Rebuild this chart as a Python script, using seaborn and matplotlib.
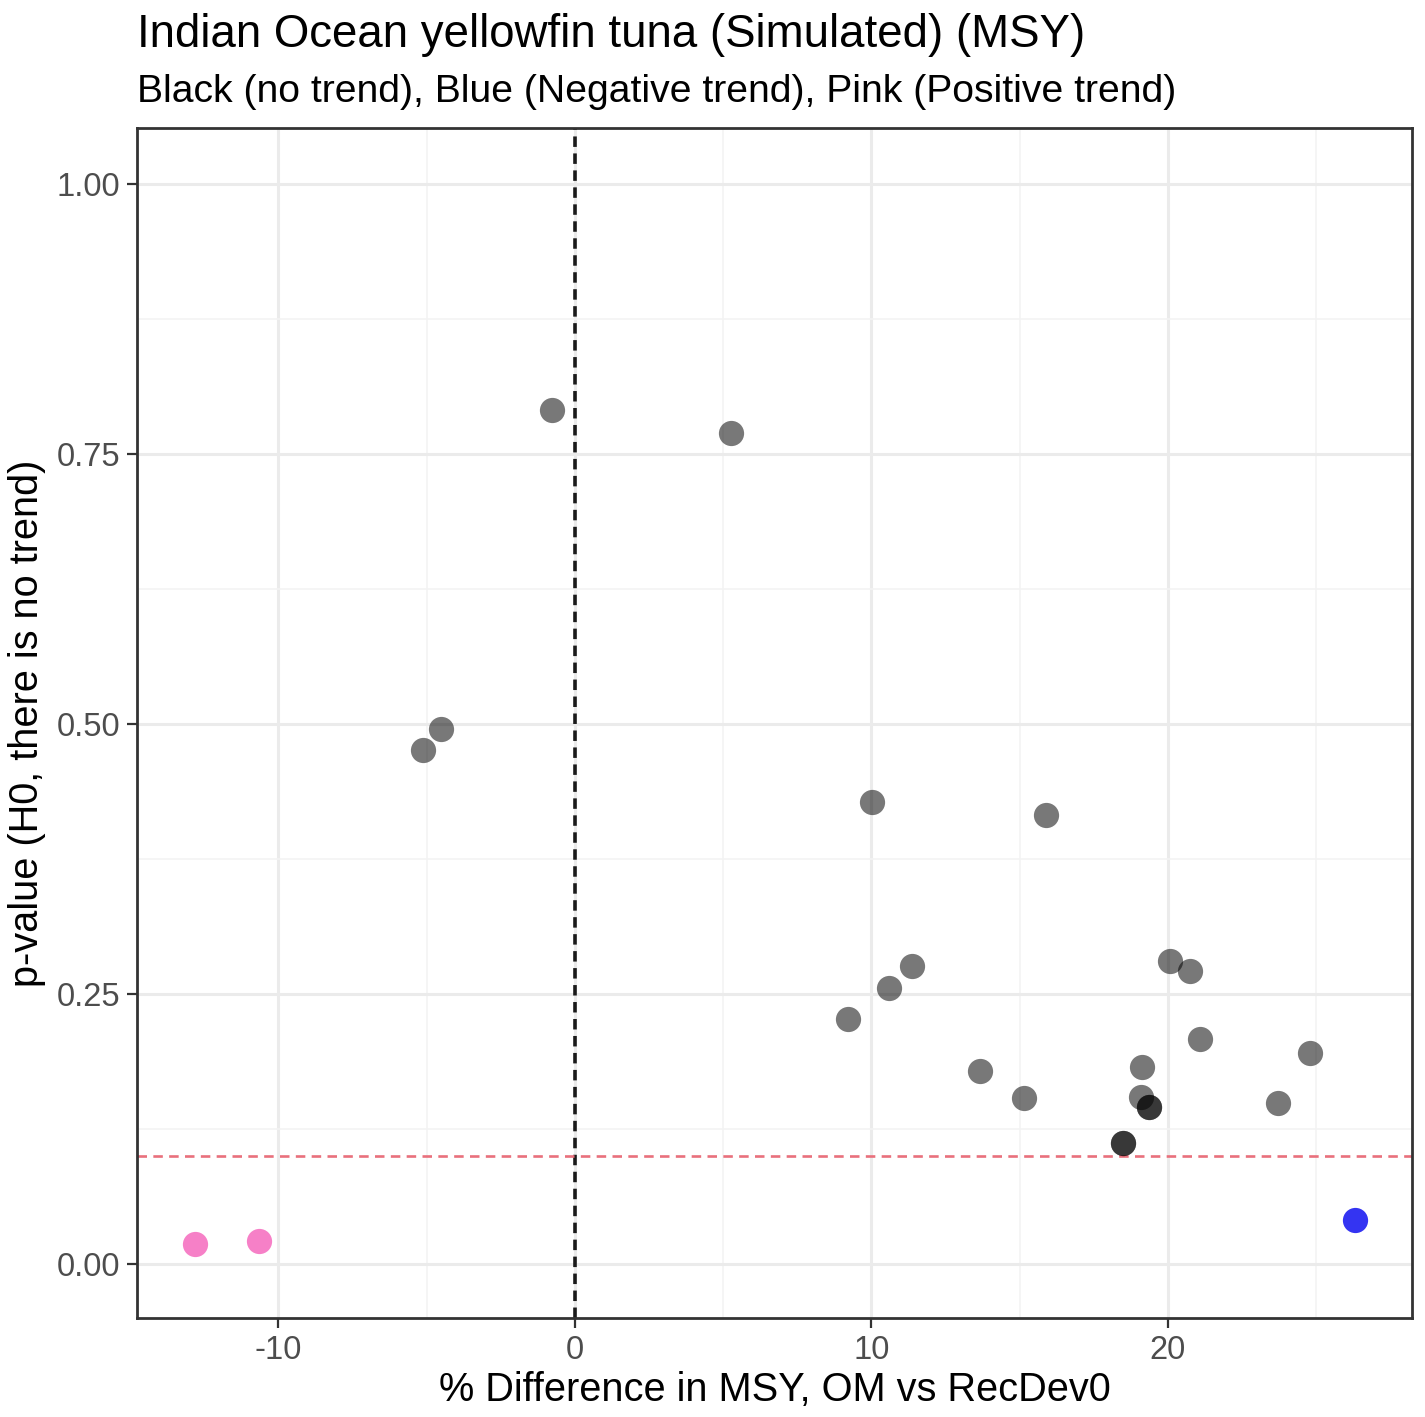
import numpy as np
import pandas as pd
import matplotlib
matplotlib.use("Agg")
import matplotlib.pyplot as plt
from matplotlib.ticker import MultipleLocator
import seaborn as sns

# % difference in MSY (OM vs RecDev0) and Mann-Kendall p-value per run
pct_diff_none = [-0.78, 5.26, -4.52, -5.13, 10.02, 15.89, 11.37, 10.59, 9.21,
                 20.07, 20.74, 21.08, 24.79, 13.66, 19.12, 15.14, 19.09,
                 19.36, 19.36, 23.71, 18.48, 18.48]
pval_none = [0.791, 0.770, 0.495, 0.476, 0.428, 0.416, 0.276, 0.256, 0.227,
             0.281, 0.271, 0.208, 0.195, 0.179, 0.182, 0.154, 0.155,
             0.145, 0.145, 0.149, 0.112, 0.112]
pct_diff_pos = [-12.82, -10.66]
pval_pos = [0.0185, 0.021]
pct_diff_neg = [26.31]
pval_neg = [0.041]

x_ticks = [-10, 0, 10, 20]
y_ticks = [0.00, 0.25, 0.50, 0.75, 1.00]
y_ticklabels = ["0.00", "0.25", "0.50", "0.75", "1.00"]

df = pd.concat([
    pd.DataFrame({"diff": pct_diff_none, "p": pval_none, "trend": "none"}),
    pd.DataFrame({"diff": pct_diff_pos, "p": pval_pos, "trend": "positive"}),
    pd.DataFrame({"diff": pct_diff_neg, "p": pval_neg, "trend": "negative"}),
], ignore_index=True)

sns.set_theme(style="white")
plt.rcParams["font.family"] = ["Liberation Sans", "DejaVu Sans"]
plt.rcParams["axes.unicode_minus"] = False

fig = plt.figure(figsize=(14.25, 14.17), dpi=100)
ax = fig.add_axes([137 / 1425, 1 - 1318 / 1417, (1412 - 137) / 1425, (1318 - 128) / 1417])

ax.set_xlim(-14.77, 28.23)
ax.set_ylim(-0.05, 1.052)

# theme_bw-like grid
ax.xaxis.set_major_locator(MultipleLocator(10))
ax.xaxis.set_minor_locator(MultipleLocator(5))
ax.yaxis.set_major_locator(MultipleLocator(0.25))
ax.yaxis.set_minor_locator(MultipleLocator(0.125))
ax.grid(True, which="major", color="#EBEBEB", linewidth=2.2)
ax.grid(True, which="minor", color="#F3F3F3", linewidth=1.2)
ax.set_axisbelow(True)

# reference lines
ax.axvline(0, color="#1a1a1a", linewidth=2.6, linestyle=(0, (2.9, 1.8)), zorder=2)
ax.axhline(0.1, color="#E9707C", linewidth=1.9, linestyle=(0, (3.6, 2.4)), zorder=2)

styles = {"none": ("black", 0.53), "negative": ("#1010F0", 0.85), "positive": ("#F0189A", 0.55)}
for trend, (col, a) in styles.items():
    sub = df[df["trend"] == trend]
    sns.scatterplot(data=sub, x="diff", y="p", ax=ax, color=col, alpha=a,
                    s=330, linewidth=0, legend=False, zorder=3)

ax.set_xticks(x_ticks)
ax.set_yticks(y_ticks)
ax.set_yticklabels(y_ticklabels)
ax.tick_params(axis="both", which="major", length=7, width=1.6, color="#333333",
               labelsize=23.5, labelcolor="#4D4D4D", pad=5, direction="out",
               bottom=True, left=True)
ax.tick_params(which="minor", length=0)

for sp in ax.spines.values():
    sp.set_color("#333333")
    sp.set_linewidth(2.0)
    sp.set_visible(True)

ax.set_xlabel("% Difference in MSY, OM vs RecDev0", fontsize=28.6, color="black", labelpad=4)
ax.set_ylabel("p-value (H0, there is no trend)", fontsize=28.6, color="black", labelpad=8)

fig.text(137 / 1425, 1 - 47 / 1417, "Indian Ocean yellowfin tuna (Simulated) (MSY)",
         fontsize=32.9, color="black", ha="left", va="baseline")
fig.text(137 / 1425, 1 - 102 / 1417,
         "Black (no trend), Blue (Negative trend), Pink (Positive trend)",
         fontsize=28.2, color="black", ha="left", va="baseline")

fig.savefig("out.png", dpi=100, facecolor="white")
